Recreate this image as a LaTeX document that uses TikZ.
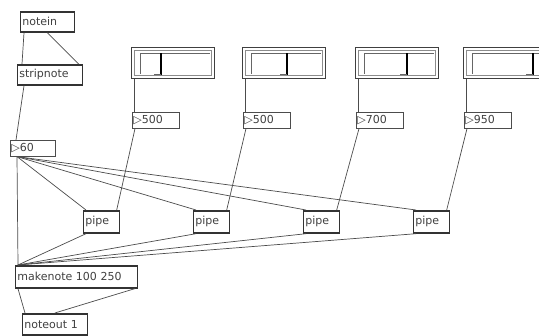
\documentclass[tikz,border=0pt]{standalone}
\usepackage{fontspec}
\setmainfont{DejaVu Sans}
\usetikzlibrary{positioning}

\begin{document}
\begin{tikzpicture}[
  x=1pt, y=-1pt,
  font=\fontsize{11}{12}\selectfont,
  obj/.style={rectangle, draw=black!80, line width=0.7pt, anchor=north west,
              inner sep=2pt, align=left, text=black!75, minimum height=21pt,
              path picture={\draw[line width=2.4pt, black!80]
                (path picture bounding box.north west) -- (path picture bounding box.north east)
                (path picture bounding box.south west) -- (path picture bounding box.south east);}},
  numbox/.style={rectangle, draw=black!70, line width=0.6pt, anchor=north west,
                 inner sep=1pt, align=left, text=black!75, minimum height=16pt},
  slbox/.style={rectangle, draw=black!75, line width=0.7pt, anchor=north west,
                minimum width=83pt, minimum height=31pt, inner sep=0pt},
  slin/.style={draw=black!45, line width=0.5pt},
  groove/.style={draw=black!60, line width=0.8pt},
  knob/.style={draw=black, line width=1.6pt},
  cord/.style={draw=black!70, line width=0.7pt}
]
\fill[white] (0,0) rectangle (539,336);
\useasboundingbox (0,0) rectangle (539,336);

% note input
\node[obj, minimum width=54pt, text width=50pt] (notein) at (20,11) {notein};
\node[obj, minimum width=65pt, text width=61pt] (stripnote) at (17,64) {stripnote};
\node[numbox, minimum width=45pt, text width=43pt] (num60) at (10,140) {▷60};

% four delay lines
\foreach \i/\x/\k/\d in {1/131/30/500, 2/242/45/500, 3/355/52/700, 4/463/70/950} {
  \node[slbox] (sl\i) at (\x,47) {};
  \draw[slin] ([shift={(3.5pt,3.5pt)}]sl\i.south west) rectangle ([shift={(-3.5pt,-3.5pt)}]sl\i.north east);
  \draw[groove] ([shift={(9pt,5pt)}]sl\i.south west) |- ([shift={(-5pt,-6pt)}]sl\i.north east);
  \draw[knob] ([shift={(\k pt,3.5pt)}]sl\i.south west) -- ([shift={(\k pt,-6pt)}]sl\i.north west);
  \draw[groove] ([shift={(\k pt,4pt)}]sl\i.south west) -- ([shift={(\k pt-7pt,4pt)}]sl\i.south west);
  \node[numbox, minimum width=47pt, text width=45pt] (num\i) at (\x+1,112) {▷\d};
  \node[obj, minimum width=36pt, text width=32pt, minimum height=23pt] (pipe\i) at (83+110*\i-110,210) {pipe};
}

% output
\node[obj, minimum width=122pt, text width=118pt, minimum height=23pt] (makenote) at (15,265) {makenote 100 250};
\node[obj, minimum width=65pt, text width=61pt, minimum height=22pt] (noteout) at (22,313) {noteout 1};

% patch cords
\draw[cord] ([xshift=4pt]notein.south west) -- ([xshift=5pt]stripnote.north west);
\draw[cord] (notein.south) -- ([xshift=-4pt]stripnote.north east);
\draw[cord] ([xshift=7pt]stripnote.south west) -- ([xshift=6pt]num60.north west);
\draw[cord] ([xshift=7pt]num60.south west) -- ([xshift=3pt]makenote.north west);
\foreach \i in {1,...,4} {
  \draw[cord] ([xshift=7pt]num60.south west) -- ([xshift=3pt]pipe\i.north west);
  \draw[cord] ([xshift=3pt]sl\i.south west) -- ([xshift=2pt]num\i.north west);
  \draw[cord] ([xshift=3pt]num\i.south west) -- ([xshift=-3pt]pipe\i.north east);
  \draw[cord] ([xshift=3pt]pipe\i.south west) -- ([xshift=3pt]makenote.north west);
}
\draw[cord] ([xshift=3pt]makenote.south west) -- ([xshift=3pt]noteout.north west);
\draw[cord] ([xshift=-3pt]makenote.south east) -- (noteout.north);
\end{tikzpicture}
\end{document}
